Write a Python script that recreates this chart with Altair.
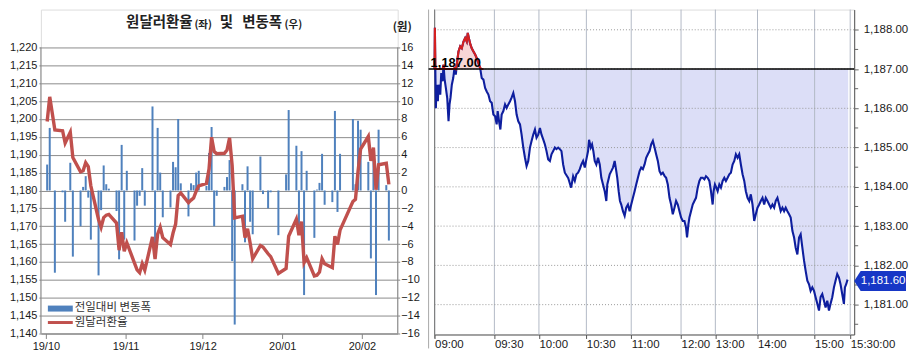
import altair as alt
import pandas as pd

# ---------------- left panel data (daily) ----------------
trade_days = [
    "2019-10-01", "2019-10-02", "2019-10-04", "2019-10-07", "2019-10-08", "2019-10-10", "2019-10-11",
    "2019-10-14", "2019-10-15", "2019-10-16", "2019-10-17", "2019-10-18", "2019-10-21", "2019-10-22",
    "2019-10-23", "2019-10-24", "2019-10-25", "2019-10-28", "2019-10-29", "2019-10-30", "2019-10-31",
    "2019-11-01", "2019-11-04", "2019-11-05", "2019-11-06", "2019-11-07", "2019-11-08", "2019-11-11",
    "2019-11-12", "2019-11-13", "2019-11-14", "2019-11-15", "2019-11-18", "2019-11-19", "2019-11-20",
    "2019-11-21", "2019-11-22", "2019-11-25", "2019-11-26", "2019-11-27", "2019-11-28", "2019-11-29",
    "2019-12-02", "2019-12-03", "2019-12-04", "2019-12-05", "2019-12-06", "2019-12-09", "2019-12-10",
    "2019-12-11", "2019-12-12", "2019-12-13", "2019-12-16", "2019-12-17", "2019-12-18", "2019-12-19",
    "2019-12-20", "2019-12-23", "2019-12-24", "2019-12-26", "2019-12-27", "2019-12-30",
    "2020-01-02", "2020-01-03", "2020-01-06", "2020-01-07", "2020-01-08", "2020-01-09", "2020-01-10",
    "2020-01-13", "2020-01-14", "2020-01-15", "2020-01-16", "2020-01-17", "2020-01-20", "2020-01-21",
    "2020-01-22", "2020-01-23", "2020-01-28", "2020-01-29", "2020-01-30", "2020-01-31",
    "2020-02-03", "2020-02-04", "2020-02-05", "2020-02-06", "2020-02-07", "2020-02-10", "2020-02-11",
]
usdkrw = [
    1199.3, 1206.2, 1196.9, 1196.7, 1193.3, 1196.3, 1189.2, 1185.2, 1185.5, 1187.8, 1186.7, 1181.3,
    1171.9, 1169.7, 1172.4, 1173.1, 1173.3, 1170.9, 1163.3, 1168.3, 1163.0,
    1165.4, 1159.7, 1157.8, 1157.0, 1159.5, 1157.7, 1167.0, 1160.8, 1167.8, 1169.7, 1166.8, 1164.9,
    1168.1, 1170.6, 1178.6, 1179.3, 1176.6, 1177.3, 1177.9, 1179.8, 1181.3,
    1182.0, 1186.0, 1194.9, 1190.9, 1190.3, 1190.4, 1191.3, 1194.7, 1187.0, 1172.3, 1172.8, 1166.8,
    1169.3, 1165.3, 1160.9, 1164.6, 1164.2, 1162.3, 1161.5, 1156.8,
    1158.2, 1167.2, 1172.0, 1167.5, 1171.3, 1159.8, 1161.2, 1156.1, 1156.3, 1157.2, 1160.9, 1159.5,
    1158.4, 1167.2, 1164.9, 1168.9, 1176.9, 1177.5, 1185.3, 1191.6,
    1195.1, 1188.3, 1192.0, 1180.2, 1187.2, 1187.6, 1181.7,
]
daily_change = [
    2.9, 7.0, -9.2, -0.2, -3.5, 3.1, -7.4, -4.0, 0.4, 1.6, -0.8, -5.5, -9.5, -2.2, 2.8, 0.7, 0.2,
    -2.3, -7.7, 5.1, -5.5,
    2.2, -5.6, -1.7, -0.6, 2.5, -1.7, 9.4, -6.5, 7.0, 2.0, -3.0, -1.9, 3.2, 2.6, 8.0, 0.8, -2.9,
    0.8, 0.6, 2.0, 2.2,
    0.5, 4.2, 7.1, -4.0, -0.6, 0.4, 1.5, 3.4, -7.9, -15.0, 0.7, -5.8, 2.7, -3.5, -4.9, 3.8, -0.4,
    -2.0, -0.2, -5.0,
    1.8, 9.0, 5.0, -4.9, 4.4, -11.7, 2.2, -5.3, 0.1, 0.85, 4.1, -1.6, -1.3, 8.9, -2.4, 4.1, 8.0,
    0.7, 7.8, 6.8,
    3.2, -7.6, 4.5, -11.7, 6.8, 0.6, -5.6,
]
rate_ticks = list(range(1140, 1221, 5))
change_ticks = list(range(-16, 17, 2))

# ---------------- right panel data (intraday) ----------------
tick_index = [
    0, 0.3, 0.8, 1.3, 2, 2.7, 3.3, 4, 5.7, 6.7,
    8, 9, 10, 11.3, 12.7, 14, 15, 16, 17.3, 18.7,
    20, 21.3, 22.7, 24, 25.7, 27.3, 29, 30.7, 32.3, 33.3,
    34.7, 36, 37.3, 39, 40.7, 42.3, 44, 45.7, 47.3, 49,
    50.7, 52.3, 54, 55.7, 57.3, 59, 60.7, 62.3, 63.3, 64.7,
    66, 67.3, 69, 70.7, 72.3, 74, 75.7, 77.3, 79, 80.7,
    82.3, 84, 85.7, 87.3, 89, 90.7, 92.3, 94, 95.7, 97.3,
    99, 100.7, 102.3, 104, 105.7, 107.3, 109, 110.7, 112.3, 114,
    115.7, 117.3, 119, 120.7, 122.3, 124, 125.7, 127.3, 129, 130.7,
    134, 137, 139, 140.7, 142.3, 144, 145.7, 147.3, 149, 150.7,
    152.3, 154, 155, 156.7, 158, 159.3, 160.7, 162.3, 164, 165.7,
    167.3, 169, 170.7, 172.3, 173.3, 175.7, 177.3, 179, 180.7, 182.3,
    183.3, 184.7, 186, 187.3, 189, 190.7, 192.3, 194, 195.7, 197.3,
    199, 200.7, 202.3, 204, 205.7, 207.3, 209, 210.7, 212.3, 214,
    215.7, 217.3, 219, 220.7, 222.3, 224, 225.7, 227.3, 229, 230.7,
    232.3, 234, 235.7, 237.3, 239, 240.7, 242.3, 244, 245.7, 247.3,
    249, 250.7, 252.3, 253.3, 254.7, 255.7, 257.3, 259, 260.7, 262.3,
    264, 265.7, 267.3, 269, 270.7, 272.3, 274, 275.7, 277.3, 279,
    280, 281.3, 282.7, 284, 285.7, 287.3, 289, 290.7, 292.3, 294,
    295.7, 297.3, 299, 300.7, 302.3, 304, 305.7, 307.3, 309, 310.7,
    312.3, 314, 315.7, 317.3, 319, 320.7, 322.3, 324, 325.7, 327.3,
    329, 330.7, 332.3, 334, 335.7, 337.3, 339, 340.7, 342.3, 344,
    345.7, 347.3, 349, 350.7, 352.3, 354, 355.7, 357.3, 359, 360.7,
    362.3, 364, 365.7, 367.3, 369, 370.7, 372.3, 374, 375.7, 377.3,
    379, 380.7, 382.3, 384, 385.7, 387.3, 389, 390.7, 392.3, 394,
    395.7, 397.3, 399, 400.7, 402.3, 404, 405.7, 407.3, 409, 410.7,
    411.7, 413, 414, 415,
]
intraday = [
    1187.0, 1188.05, 1186.9, 1186.0, 1186.6, 1186.35, 1186.18, 1186.6, 1186.35, 1186.9,
    1186.69, 1187.11, 1186.75, 1186.52, 1186.26, 1185.67, 1186.1, 1186.27, 1186.6, 1186.77,
    1187.03, 1186.86, 1187.2, 1187.45, 1187.58, 1187.53, 1187.7, 1187.79, 1187.7, 1187.92,
    1187.75, 1187.62, 1187.53, 1187.45, 1187.37, 1187.28, 1187.15, 1187.03, 1186.77, 1186.73,
    1186.52, 1186.43, 1186.35, 1186.18, 1186.14, 1185.84, 1185.8, 1185.59, 1185.93, 1185.67,
    1185.46, 1185.84, 1185.93, 1186.1, 1186.01, 1186.1, 1186.18, 1186.27, 1186.39, 1186.18,
    1185.84, 1185.67, 1185.59, 1185.33, 1185.0, 1184.74, 1184.53, 1184.66, 1185.0, 1185.17,
    1185.33, 1185.46, 1185.25, 1185.33, 1185.5, 1185.33, 1185.21, 1185.08, 1184.91, 1184.7,
    1184.66, 1184.83, 1184.91, 1185.0, 1184.96, 1185.0, 1184.96, 1184.91, 1184.57, 1184.36,
    1184.23, 1183.98, 1184.27, 1184.15, 1184.32, 1184.36, 1184.45, 1184.57, 1184.66, 1184.49,
    1184.7, 1184.91, 1185.2, 1185.0, 1185.08, 1184.91, 1184.66, 1184.57, 1184.74, 1184.57,
    1184.23, 1184.06, 1183.89, 1183.64, 1184.06, 1184.32, 1184.4, 1184.49, 1184.66, 1184.4,
    1184.23, 1183.89, 1183.64, 1183.55, 1183.38, 1183.26, 1183.47, 1183.55, 1183.38, 1183.55,
    1183.72, 1183.89, 1184.06, 1184.23, 1184.4, 1184.49, 1184.45, 1184.57, 1184.74, 1184.83,
    1184.91, 1185.08, 1185.17, 1185.0, 1184.83, 1184.66, 1184.4, 1184.32, 1184.36, 1184.28,
    1184.23, 1184.06, 1183.72, 1183.55, 1183.3, 1183.47, 1183.64, 1183.55, 1183.38, 1183.22,
    1183.13, 1183.13, 1182.96, 1182.71, 1183.05, 1183.22, 1183.38, 1183.55, 1183.64, 1183.72,
    1183.98, 1184.15, 1184.23, 1184.23, 1184.19, 1184.27, 1184.23, 1184.15, 1183.89, 1183.55,
    1183.89, 1184.06, 1183.98, 1183.89, 1184.06, 1183.98, 1184.15, 1184.23, 1184.15, 1184.23,
    1184.32, 1184.36, 1184.57, 1184.66, 1184.83, 1184.74, 1184.83, 1184.57, 1184.32, 1184.15,
    1183.89, 1183.72, 1183.64, 1183.81, 1183.55, 1183.13, 1183.3, 1183.47, 1183.55, 1183.64,
    1183.72, 1183.55, 1183.72, 1183.64, 1183.55, 1183.47, 1183.55, 1183.47, 1183.64, 1183.72,
    1183.55, 1183.38, 1183.47, 1183.38, 1183.47, 1183.38, 1183.3, 1183.22, 1182.88, 1182.71,
    1182.45, 1182.28, 1182.71, 1182.79, 1182.45, 1182.12, 1181.86, 1181.61, 1181.52, 1181.35,
    1181.44, 1181.35, 1181.19, 1181.02, 1180.85, 1181.19, 1181.27, 1181.1, 1180.93, 1181.1,
    1180.85, 1181.02, 1181.19, 1181.44, 1181.61, 1181.78, 1181.69, 1181.52, 1181.27, 1181.02,
    1181.44, 1181.52, 1181.61, 1181.6,
]
time_tick_pos = [0, 60, 104.7, 152.3, 197.3, 247.3, 281.7, 324, 381.3, 417]
time_tick_lab = ["09:00", "09:30", "10:00", "10:30", "11:00", "12:00", "13:00", "14:00", "15:00", "15:30:00"]
price_levels = [1181, 1182, 1183, 1184, 1185, 1186, 1187, 1188]
half_levels = [1180.5, 1181.5, 1182.5, 1183.5, 1184.5, 1185.5, 1186.5, 1187.5]
prev_close = 1187.00
last_price = 1181.60

# ---------------- sizes / styles ----------------
LW, LH = 358, 325
RW, RH = 421, 326
L_DOM = [1140, 1230.6]
B_DOM = [-16, 20.24]
R_DOM = [1180.24, 1188.515]
NUM = "Liberation Sans"
KOR = "Noto Sans CJK KR"
GRAY = "#868686"
TXT = "#1a1a1a"

df_left = pd.DataFrame({
    "date": [d + "T12:00:00Z" for d in trade_days],
    "rate": usdkrw,
    "chg": daily_change,
})


def dt(y, m, d):
    return alt.DateTime(year=y, month=m, date=d, utc=True)


one = pd.DataFrame({"k": [0]})

x_left = alt.X(
    "date:T",
    scale=alt.Scale(type="utc", domain=[dt(2019, 10, 1), dt(2020, 2, 13)]),
    axis=alt.Axis(values=[dt(2019, 10, 1), dt(2019, 11, 1), dt(2019, 12, 1), dt(2020, 1, 1), dt(2020, 2, 1)],
                  labelExpr="utcFormat(datum.value, '%y/%m')", title=None, grid=False, labelFlush=False,
                  domainColor=GRAY, tickColor=GRAY, tickSize=5, labelPadding=2,
                  labelFont=NUM, labelFontSize=11, labelColor=TXT),
)

bars = alt.Chart(df_left).mark_bar(size=2, color="#4F81BD").encode(
    x=x_left,
    y=alt.Y("chg:Q", scale=alt.Scale(domain=B_DOM, nice=False),
            axis=alt.Axis(orient="right", values=change_ticks, title=None, grid=False, domain=False,
                          tickSize=2, tickColor=GRAY, labelPadding=1, labelFlush=False,
                          labelFont=NUM, labelFontSize=11, labelColor=TXT)),
)

line = alt.Chart(df_left).mark_line(color="#C0504D", strokeWidth=3.4).encode(
    x=x_left,
    y=alt.Y("rate:Q", scale=alt.Scale(domain=L_DOM, nice=False, zero=False),
            axis=alt.Axis(orient="left", values=rate_ticks, format=",", title=None, grid=True,
                          gridColor="#8C8C8C", gridWidth=1, domain=False, tickSize=2, tickColor=GRAY,
                          labelPadding=2, labelFlush=False, labelFont=NUM, labelFontSize=11, labelColor=TXT)),
)

frame_df = pd.DataFrame({"lo": [rate_ticks[0]], "hi": [rate_ticks[-1]]})
frame_y = alt.Y("lo:Q", scale=alt.Scale(domain=L_DOM, nice=False, zero=False), axis=None)
frame_l = alt.Chart(frame_df).mark_rule(color=GRAY).encode(y=frame_y, y2="hi:Q", x=alt.value(0))
frame_r = alt.Chart(frame_df).mark_rule(color=GRAY).encode(y=frame_y, y2="hi:Q", x=alt.value(LW))


def label(text, x, y, size, font=KOR, weight="normal", color="#222222", baseline="middle"):
    return alt.Chart(pd.DataFrame({"t": [text]})).mark_text(
        align="left", baseline=baseline, fontSize=size, font=font, fontWeight=weight, color=color
    ).encode(text="t:N", x=alt.value(x), y=alt.value(y))


title_parts = [
    label("원달러환율", 85.5, 13, 14.5, weight="bold"),
    label("(좌)", 154, 15, 10.5, weight="bold"),
    label("및", 179.5, 13, 14.5, weight="bold"),
    label("변동폭", 202, 13, 14.5, weight="bold"),
    label("(우)", 244.5, 15, 10.5, weight="bold"),
    label("(원)", 353, 19, 11.5, weight="bold"),
]

leg_box = alt.Chart(one).mark_rect(color="#4F81BD").encode(
    x=alt.value(7), x2=alt.value(32), y=alt.value(297), y2=alt.value(303))
leg_line = alt.Chart(one).mark_rule(color="#C0504D", strokeWidth=3).encode(
    x=alt.value(7), x2=alt.value(32), y=alt.value(314))
leg_t1 = label("전일대비 변동폭", 34, 299.5, 11.5, color="#333333")
leg_t2 = label("원달러환율", 34, 314, 11.5, color="#333333")

left = alt.layer(
    bars, line, frame_l, frame_r, leg_box, leg_line, leg_t1, leg_t2, *title_parts
).resolve_scale(y="independent").properties(width=LW, height=LH)

# ---------------- right panel ----------------
df_r = pd.DataFrame({"t": tick_index, "v": intraday})
df_ticks = pd.DataFrame({"pos": time_tick_pos, "lab": time_tick_lab})
df_lv = pd.DataFrame({"lvl": price_levels})
df_half = pd.DataFrame({"h": half_levels})
df_base = pd.DataFrame({"b": [prev_close], "lab": [f"{prev_close:,.2f}"]})
df_last = pd.DataFrame({"v": [last_price], "lab": [f"{last_price:,.2f}"]})

lab_expr = ""
for p, l in zip(time_tick_pos, time_tick_lab):
    lab_expr += f"datum.value == {p} ? '{l}' : "
lab_expr += "''"

x_axis_r = alt.Axis(values=time_tick_pos, labelExpr=lab_expr, title=None, grid=False,
                    domainColor="#555555", tickColor="#555555", tickSize=4, labelAlign="left",
                    labelPadding=0, labelFlush=False, labelOverlap=False,
                    labelFont=NUM, labelFontSize=11.5, labelColor=TXT)
y_axis_r = alt.Axis(orient="right", values=price_levels, format=",.2f",
                    title=None, grid=False, domainColor="#555555", tickColor="#666666", tickSize=4,
                    labelPadding=5, labelFlush=False, labelOverlap=False,
                    labelFont=NUM, labelFontSize=11.5, labelColor=TXT)


def xr(field):
    return alt.X(field, scale=alt.Scale(domain=[0, RW], nice=False, zero=False), axis=x_axis_r)


def yr(field):
    return alt.Y(field, scale=alt.Scale(domain=R_DOM, nice=False, zero=False), axis=y_axis_r)


area_below = alt.Chart(df_r).transform_calculate(lo=f"min(datum.v, {prev_close})").mark_area(
    color="#DCDEF7", opacity=1).encode(x=xr("t:Q"), y=yr("lo:Q"), y2=alt.datum(prev_close))
area_above = alt.Chart(df_r).transform_calculate(hi=f"max(datum.v, {prev_close})").mark_area(
    color="#F8D6D6", opacity=1).encode(x=xr("t:Q"), y=yr("hi:Q"), y2=alt.datum(prev_close))
vgrid = alt.Chart(df_ticks).mark_rule(color="#B3BAC6").encode(
    x=xr("pos:Q"), y=alt.value(0), y2=alt.value(RH))
hgrid = alt.Chart(df_lv).mark_rule(color="#9A9A9A", strokeDash=[1, 2]).encode(
    y=yr("lvl:Q"), x=alt.value(0), x2=alt.value(RW))
minor = alt.Chart(df_half).mark_rule(color="#666666").encode(
    y=yr("h:Q"), x=alt.value(RW), x2=alt.value(RW + 4))
edge = alt.Chart(one).mark_rule(color="#7A7A7A").encode(x=alt.value(0), y=alt.value(0), y2=alt.value(RH + 4))
divider = alt.Chart(one).mark_rule(color="#A8A8A8").encode(x=alt.value(-6), y=alt.value(0), y2=alt.value(RH + 14))
blue_line = alt.Chart(df_r).mark_line(color="#0E1E9E", strokeWidth=2.1).encode(x=xr("t:Q"), y=yr("v:Q"))
red_line = alt.Chart(df_r).transform_filter("datum.t <= 50").transform_calculate(
    hi=f"max(datum.v, {prev_close})").mark_line(color="#D42020", strokeWidth=2.1).encode(
    x=xr("t:Q"), y=yr("hi:Q"))
base_rule = alt.Chart(df_base).mark_rule(color="black", strokeWidth=1.6).encode(
    y=yr("b:Q"), x=alt.value(-6), x2=alt.value(RW))
base_text = alt.Chart(df_base).mark_text(
    align="left", baseline="alphabetic", dy=-2, font=NUM, fontSize=13, fontWeight="bold", color="black"
).encode(y=yr("b:Q"), x=alt.value(-4), text="lab:N")
box_path = "M -1 0 L -0.75 -0.385 L 1 -0.385 L 1 0.385 L -0.75 0.385 Z"
price_box = alt.Chart(df_last).mark_point(
    shape=box_path, size=52 * 52, filled=True, color="#1737C6", opacity=1, strokeWidth=0
).encode(x=alt.value(RW + 26), y=yr("v:Q"))
price_text = alt.Chart(df_last).mark_text(
    align="center", baseline="middle", font=NUM, fontSize=11.5, color="white"
).encode(x=alt.value(RW + 29), y=yr("v:Q"), text="lab:N")

right = alt.layer(
    area_below, area_above, vgrid, hgrid, minor, edge, divider, blue_line, red_line,
    base_rule, base_text, price_box, price_text
).properties(width=RW, height=RH)

chart = alt.hconcat(left, right, spacing=37, bounds="flush").properties(
    padding=0
).configure_view(stroke="transparent").configure(background="white")

chart.save("out.html", embed_options={"renderer": "svg", "actions": False})
